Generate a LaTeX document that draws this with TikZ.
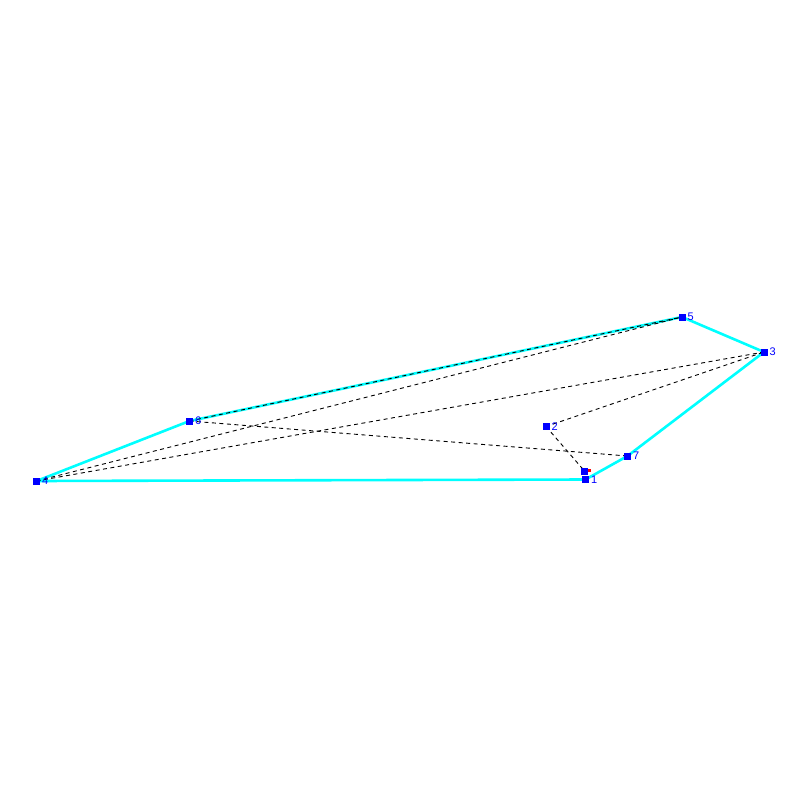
\documentclass[tikz,border=0pt]{standalone}
\usepackage{fontspec}
\setmainfont{Liberation Sans}
\begin{document}
\begin{tikzpicture}[x=1pt,y=-1pt,
  pt/.style={draw=none,fill={rgb,255:red,0;green,0;blue,255},minimum size=7pt,inner sep=0pt,outer sep=0pt,rectangle},
  lbl/.style={anchor=base west,inner sep=0pt,text={rgb,255:red,0;green,0;blue,255},font=\fontsize{11}{11}\selectfont},
  hull/.style={draw={rgb,255:red,0;green,255;blue,255},line width=2.6pt,line join=round},
  diag/.style={draw=black,line width=0.9pt,dash pattern=on 4pt off 3.5pt}]
\useasboundingbox[fill=white] (0,0) rectangle (800,800);
\coordinate (c1) at (585.5,479.5);
\coordinate (c0) at (584.5,471);
\coordinate (c2) at (546,426.5);
\coordinate (c3) at (764,352);
\coordinate (c4) at (36.5,481);
\coordinate (c5) at (682,317);
\coordinate (c6) at (189.5,421);
\coordinate (c7) at (627.5,456);
% hull
\draw[hull] (c4) -- (c6) -- (c5) -- (c3) -- (c7) -- (c1) -- cycle;
% diagonals
\draw[diag] (c6) -- (c5);
\draw[diag] (c4) -- (c5);
\draw[diag] (c4) -- (c3);
\draw[diag] (c6) -- (c7);
\draw[diag] (c2) -- (c3);
\draw[diag] (c2) -- (c0);
% points
\node[pt] (p0) at (c0) {};
\node[pt] (p1) at (c1) {};
\node[pt] (p2) at (c2) {};
\node[pt] (p3) at (c3) {};
\node[pt] (p4) at (c4) {};
\node[pt] (p5) at (c5) {};
\node[pt] (p6) at (c6) {};
\node[pt] (p7) at (c7) {};
\fill[red] (588,469) rectangle (590.5,472) coordinate (rmark);
% labels
\node[lbl] (l1) at ([shift={(5.5,3.5)}]c1) {1};
\node[lbl] (l2) at ([shift={(5.5,3.5)}]c2) {2};
\node[lbl] (l3) at ([shift={(5.5,3.5)}]c3) {3};
\node[lbl] (l4) at ([shift={(5.5,3.5)}]c4) {4};
\node[lbl] (l5) at ([shift={(5.5,3.5)}]c5) {5};
\node[lbl] (l6) at ([shift={(5.5,3.5)}]c6) {6};
\node[lbl] (l7) at ([shift={(5.5,3.5)}]c7) {7};
\end{tikzpicture}
\end{document}
